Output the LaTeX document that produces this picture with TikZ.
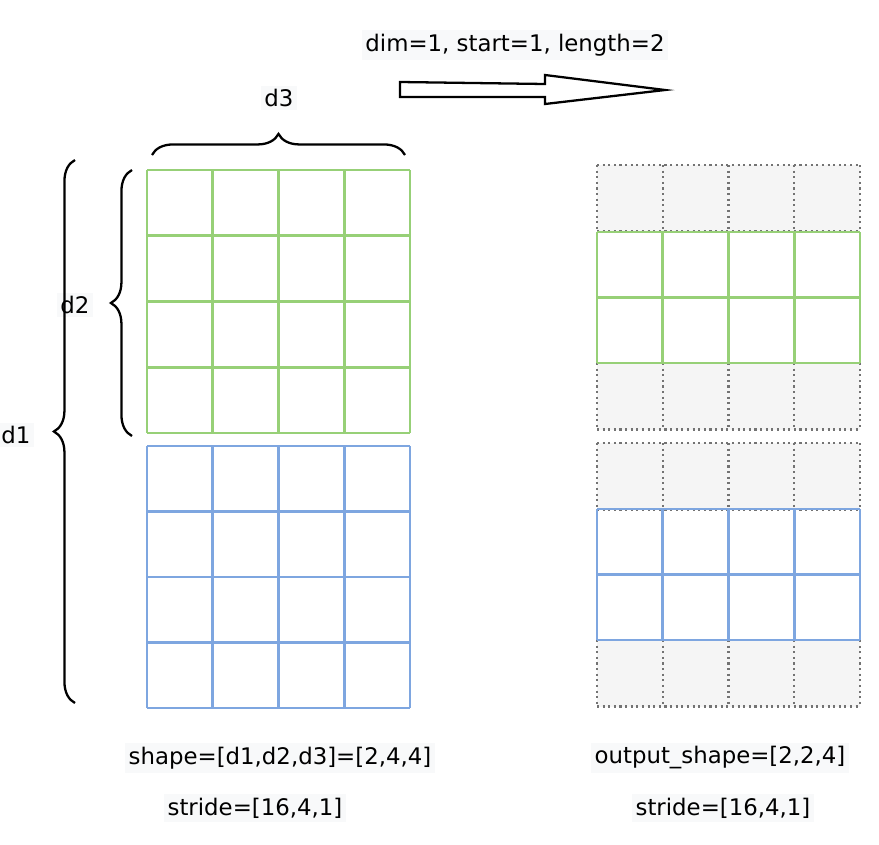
\documentclass[tikz,border=0pt]{standalone}
\usepackage{fontspec}
\setmainfont{DejaVu Sans}
\usetikzlibrary{decorations.pathreplacing}
\definecolor{gr}{HTML}{97D077}
\definecolor{bl}{HTML}{7EA6E0}
\definecolor{cellgray}{HTML}{F5F5F5}
\definecolor{txtbg}{HTML}{F8F9FA}
\tikzset{
  lbl/.style={font=\fontsize{13}{15}\selectfont, fill=txtbg, inner sep=2pt},
  brc/.style={decorate, decoration={brace, amplitude=12pt}, line width=1.3pt},
  gline/.style={gr, line width=1.6pt},
  bline/.style={bl, line width=1.6pt},
  dline/.style={gray!90!black, dotted, line width=1.2pt},
}
% cells: x0, y0, rows, cellheight, style
\newcommand{\mygrid}[5]{%
  \foreach \i in {0,...,#3}{\draw[#5] (#1,{#2+\i*#4}) -- ({#1+263},{#2+\i*#4});}
  \foreach \j in {0,...,4}{\draw[#5] ({#1+\j*65.75},#2) -- ({#1+\j*65.75},{#2+#3*#4});}
}
\begin{document}
\begin{tikzpicture}[x=0.02cm,y=-0.02cm]
\useasboundingbox (0,0) rectangle (879,845);
\mygrid{147}{170}{4}{65.75}{gline}
\mygrid{147}{446}{4}{65.5}{bline}
% right grid
\foreach \a in {165,363,443,640}{
  \fill[cellgray] (597,\a) rectangle (860,\a+66.5);
  \mygrid{597}{\a}{1}{66.5}{dline}
}
\mygrid{597}{232}{2}{65.5}{gline}
\mygrid{597}{509}{2}{65.5}{bline}
% braces
\coordinate (d3a) at (152,155); \coordinate (d3b) at (405,155);
\draw[brc] (d3a) -- (d3b);
\node[lbl] (d3) at (279,98) {d3};
\coordinate (d2a) at (132,436); \coordinate (d2b) at (132,170);
\draw[brc] (d2a) -- (d2b);
\node[lbl] (d2) at (75,305) {d2};
\coordinate (d1a) at (75,703); \coordinate (d1b) at (75,160);
\draw[brc] (d1a) -- (d1b);
\node[lbl] (d1) at (16,435) {d1};
% arrow
\draw[line width=1.3pt] (400,82) -- (545,84) -- (545,75) -- (665,90) -- (545,104) -- (545,97) -- (400,97) -- cycle;
\node[lbl] (t) at (515,45) {dim=1, start=1, length=2};
\node[lbl] (s1) at (280,758) {shape=[d1,d2,d3]=[2,4,4]};
\node[lbl] (s2) at (255,808) {stride=[16,4,1]};
\node[lbl] (s3) at (720,758) {output\_shape=[2,2,4]};
\node[lbl] (s4) at (723,808) {stride=[16,4,1]};
\end{tikzpicture}
\end{document}
